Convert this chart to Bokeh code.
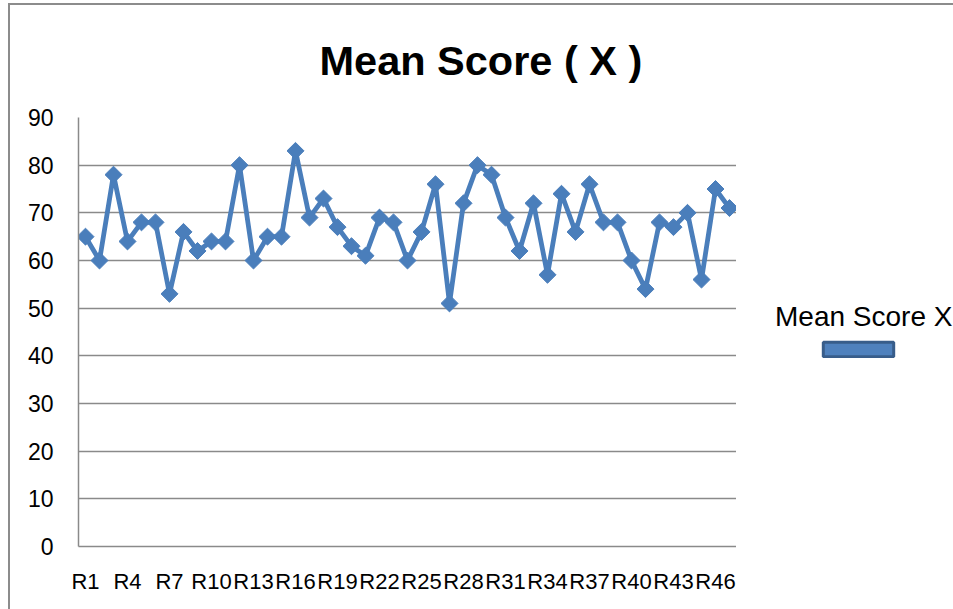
import math
from bokeh.plotting import figure
from bokeh.layouts import row
from bokeh.models import Range1d, FixedTicker, Legend, LegendItem, ColumnDataSource
from bokeh.embed import file_html
from bokeh.resources import INLINE

categories = ["R1", "R2", "R3", "R4", "R5", "R6", "R7", "R8", "R9", "R10",
              "R11", "R12", "R13", "R14", "R15", "R16", "R17", "R18", "R19", "R20",
              "R21", "R22", "R23", "R24", "R25", "R26", "R27", "R28", "R29", "R30",
              "R31", "R32", "R33", "R34", "R35", "R36", "R37", "R38", "R39", "R40",
              "R41", "R42", "R43", "R44", "R45", "R46", "R47"]
mean_score_x = [65, 60, 78, 64, 68, 68, 53, 66, 62, 64,
                64, 80, 60, 65, 65, 83, 69, 73, 67, 63,
                61, 69, 68, 60, 66, 76, 51, 72, 80, 78,
                69, 62, 72, 57, 74, 66, 76, 68, 68, 60,
                54, 68, 67, 70, 56, 75, 71]
shown_labels = ["R1", "R4", "R7", "R10", "R13", "R16", "R19", "R22", "R25", "R28",
                "R31", "R34", "R37", "R40", "R43", "R46"]
y_ticks = [0, 10, 20, 30, 40, 50, 60, 70, 80, 90]

FONT = "Liberation Sans"
LINE_BLUE = "#4A7EBB"
GRID = "#8a8a8a"

# category positions on a linear axis (one slot per category)
x_pos = [i + 1 for i in range(len(categories))]

p = figure(width=736, height=609,
           x_range=Range1d(0.5, len(categories) + 0.5),
           y_range=Range1d(0, 90),
           output_backend="svg", toolbar_location=None,
           min_border_left=78, min_border_right=0,
           min_border_top=117, min_border_bottom=63)

p.title.text = "Mean Score ( X )"
p.title.align = "left"
p.title.offset = 241
p.title.standoff = 68
p.title.text_font = FONT
p.title.text_font_size = "41.5px"
p.title.text_font_style = "bold"
p.title.text_color = "#000000"

p.outline_line_color = None
p.xgrid.grid_line_color = None
p.ygrid.grid_line_color = GRID
p.ygrid.grid_line_width = 1.5
p.ygrid.ticker = FixedTicker(ticks=y_ticks)

p.yaxis.ticker = FixedTicker(ticks=y_ticks)
p.yaxis.axis_line_color = GRID
p.yaxis.axis_line_width = 1.5
p.yaxis.major_tick_line_color = None
p.yaxis.minor_tick_line_color = None
p.yaxis.major_tick_out = 0
p.yaxis.major_tick_in = 0
p.yaxis.major_label_standoff = 25
p.yaxis.major_label_text_font = FONT
p.yaxis.major_label_text_font_size = "23px"
p.yaxis.major_label_text_color = "#000000"

p.xaxis.ticker = FixedTicker(ticks=[categories.index(s) + 1 for s in shown_labels])
p.xaxis.major_label_overrides = {i + 1: c for i, c in enumerate(categories)}
p.xaxis.axis_line_color = GRID
p.xaxis.axis_line_width = 1.5
p.xaxis.major_tick_line_color = None
p.xaxis.minor_tick_line_color = None
p.xaxis.major_tick_out = 0
p.xaxis.major_tick_in = 0
p.xaxis.major_label_standoff = 22
p.xaxis.major_label_text_font = FONT
p.xaxis.major_label_text_font_size = "22px"
p.xaxis.major_label_text_color = "#000000"

p.line(x=x_pos, y=mean_score_x, line_width=4.8, line_color=LINE_BLUE)
p.scatter(x=x_pos, y=mean_score_x, marker="square", angle=math.pi / 4,
          size=12, fill_color=LINE_BLUE, line_color=LINE_BLUE)

# legend panel on the right: text on top, bar symbol beneath
lg = figure(width=217, height=609, x_range=Range1d(0, 1), y_range=Range1d(0, 1),
            output_backend="svg", toolbar_location=None,
            x_axis_type=None, y_axis_type=None,
            min_border_left=0, min_border_right=0, min_border_top=0, min_border_bottom=0)
lg.outline_line_color = None
lg.grid.grid_line_color = None

# legend-only proxy glyphs, placed outside the visible range of this panel
proxy_src = ColumnDataSource(data=dict(x=[-5], y=[-5]))
r_text = lg.scatter(x="x", y="y", source=proxy_src, fill_alpha=0, line_alpha=0)
r_bar = lg.rect(x="x", y="y", width=0.1, height=0.1, source=proxy_src,
                fill_color="#4F81BD", line_color="#385D8A", line_width=3)

leg_text = Legend(items=[LegendItem(label="Mean Score X", renderers=[r_text])],
                  location=(39, 213), glyph_width=0, glyph_height=1, label_standoff=0,
                  padding=0, margin=0, border_line_alpha=0, background_fill_alpha=0,
                  label_text_font=FONT, label_text_font_size="28px",
                  label_text_color="#000000")
leg_bar = Legend(items=[LegendItem(label=" ", renderers=[r_bar])],
                 location=(78, 188), glyph_width=88, glyph_height=18, label_standoff=0,
                 label_height=18, label_width=1,
                 padding=0, margin=0, border_line_alpha=0, background_fill_alpha=0,
                 label_text_font_size="10px")
lg.add_layout(leg_text, "center")
lg.add_layout(leg_bar, "center")

frame_css = (":host { position: relative; } "
             ":host::after { content: ''; position: absolute; left: 8px; top: 3px; "
             "right: 0; bottom: 0; border-left: 2px solid #8c8c8c; "
             "border-top: 2px solid #8c8c8c; pointer-events: none; z-index: 10; }")
layout = row(p, lg, spacing=0, stylesheets=[frame_css])
open("out.html", "w").write(file_html(layout, INLINE))
